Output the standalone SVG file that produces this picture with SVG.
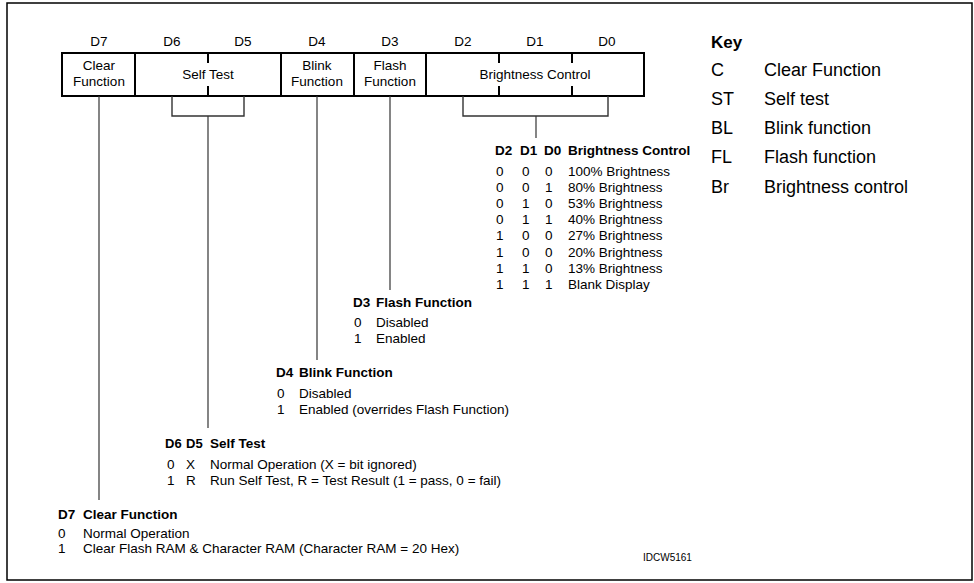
<svg xmlns="http://www.w3.org/2000/svg" width="974" height="583" viewBox="0 0 974 583">
<style>
text{font-family:"Liberation Sans",Arial,sans-serif;font-size:13.5px;fill:#000}
.b{font-weight:bold}
.c{text-anchor:middle}
.k{font-size:18px}
.kb{font-size:17px;font-weight:bold}
.box{fill:none;stroke:#000;stroke-width:2}
.tick{stroke:#000;stroke-width:2}
.stem{stroke:#333;stroke-width:1.2;fill:none}
.brk{stroke:#333;stroke-width:1.4;fill:none}
</style>
<rect x="7" y="3" width="965" height="577" fill="#fff" stroke="#000" stroke-width="1.5"/>
<g id="bits">
<text class="c" x="99" y="46">D7</text>
<text class="c" x="172" y="46">D6</text>
<text class="c" x="243" y="46">D5</text>
<text class="c" x="317" y="46">D4</text>
<text class="c" x="390" y="46">D3</text>
<text class="c" x="463" y="46">D2</text>
<text class="c" x="535" y="46">D1</text>
<text class="c" x="607" y="46">D0</text>
</g>
<g id="clear-node"><rect class="box" x="62" y="53" width="73" height="43"/><text class="c" x="99" y="70">Clear</text><text class="c" x="99" y="86">Function</text></g>
<g id="selftest-node"><rect class="box" x="135" y="53" width="146" height="43"/><text class="c" x="208" y="79">Self Test</text><line class="tick" x1="208" y1="53" x2="208" y2="63"/><line class="tick" x1="208" y1="86" x2="208" y2="96"/></g>
<g id="blink-node"><rect class="box" x="281" y="53" width="73" height="43"/><text class="c" x="317" y="70">Blink</text><text class="c" x="317" y="86">Function</text></g>
<g id="flash-node"><rect class="box" x="354" y="53" width="72" height="43"/><text class="c" x="390" y="70">Flash</text><text class="c" x="390" y="86">Function</text></g>
<g id="brightness-node"><rect class="box" x="426" y="53" width="218" height="43"/><text class="c" x="535" y="79">Brightness Control</text><line class="tick" x1="499" y1="53" x2="499" y2="63"/><line class="tick" x1="499" y1="86" x2="499" y2="96"/><line class="tick" x1="572" y1="53" x2="572" y2="63"/><line class="tick" x1="572" y1="86" x2="572" y2="96"/></g>
<g id="connectors">
<line class="stem" x1="99" y1="96" x2="99" y2="500"/>
<path class="brk" d="M172 96V116H244V96"/>
<line class="stem" x1="208" y1="116" x2="208" y2="428"/>
<line class="stem" x1="317" y1="96" x2="317" y2="360"/>
<line class="stem" x1="390" y1="96" x2="390" y2="290"/>
<path class="brk" d="M463 96V116H608V96"/>
<line class="stem" x1="536" y1="116" x2="536" y2="138"/>
</g>
<g id="brightness-table">
<text class="b" x="495" y="155">D2</text><text class="b" x="520" y="155">D1</text><text class="b" x="544" y="155">D0</text><text class="b" x="568" y="155">Brightness Control</text>
<text x="496" y="175.5">0</text><text x="522" y="175.5">0</text><text x="545" y="175.5">0</text><text x="568" y="175.5">100% Brightness</text>
<text x="496" y="191.7">0</text><text x="522" y="191.7">0</text><text x="545" y="191.7">1</text><text x="568" y="191.7">80% Brightness</text>
<text x="496" y="207.9">0</text><text x="522" y="207.9">1</text><text x="545" y="207.9">0</text><text x="568" y="207.9">53% Brightness</text>
<text x="496" y="224.1">0</text><text x="522" y="224.1">1</text><text x="545" y="224.1">1</text><text x="568" y="224.1">40% Brightness</text>
<text x="496" y="240.3">1</text><text x="522" y="240.3">0</text><text x="545" y="240.3">0</text><text x="568" y="240.3">27% Brightness</text>
<text x="496" y="256.5">1</text><text x="522" y="256.5">0</text><text x="545" y="256.5">0</text><text x="568" y="256.5">20% Brightness</text>
<text x="496" y="272.7">1</text><text x="522" y="272.7">1</text><text x="545" y="272.7">0</text><text x="568" y="272.7">13% Brightness</text>
<text x="496" y="288.9">1</text><text x="522" y="288.9">1</text><text x="545" y="288.9">1</text><text x="568" y="288.9">Blank Display</text>
</g>
<g id="flash-table">
<text class="b" x="353" y="307">D3</text><text class="b" x="376" y="307">Flash Function</text>
<text x="354" y="327">0</text><text x="376" y="327">Disabled</text>
<text x="354" y="343">1</text><text x="376" y="343">Enabled</text>
</g>
<g id="blink-table">
<text class="b" x="276" y="377">D4</text><text class="b" x="299" y="377">Blink Function</text>
<text x="277" y="398">0</text><text x="299" y="398">Disabled</text>
<text x="277" y="414">1</text><text x="299" y="414">Enabled (overrides Flash Function)</text>
</g>
<g id="selftest-table">
<text class="b" x="165" y="448" style="font-size:13px">D6</text><text class="b" x="186" y="448" style="font-size:13px">D5</text><text class="b" x="210" y="448">Self Test</text>
<text x="167" y="469">0</text><text x="186" y="469">X</text><text x="210" y="469">Normal Operation (X = bit ignored)</text>
<text x="167" y="485">1</text><text x="186" y="485">R</text><text x="210" y="485">Run Self Test, R = Test Result (1 = pass, 0 = fail)</text>
</g>
<g id="clear-table">
<text class="b" x="58" y="519">D7</text><text class="b" x="83" y="519">Clear Function</text>
<text x="58" y="538">0</text><text x="83" y="538">Normal Operation</text>
<text x="58" y="553">1</text><text x="83" y="553">Clear Flash RAM &amp; Character RAM (Character RAM = 20 Hex)</text>
</g>
<g id="key">
<text class="kb" x="711" y="48">Key</text>
<text class="k" x="711" y="76">C</text><text class="k" x="764" y="76">Clear Function</text>
<text class="k" x="711" y="105">ST</text><text class="k" x="764" y="105">Self test</text>
<text class="k" x="711" y="134">BL</text><text class="k" x="764" y="134">Blink function</text>
<text class="k" x="711" y="163">FL</text><text class="k" x="764" y="163">Flash function</text>
<text class="k" x="711" y="193">Br</text><text class="k" x="764" y="193">Brightness control</text>
</g>
<text x="643" y="561" style="font-size:10px">IDCW5161</text>
</svg>
